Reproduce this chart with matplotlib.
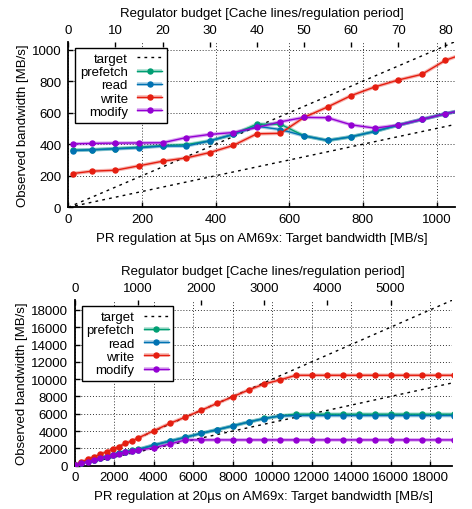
import matplotlib
matplotlib.use("Agg")
import matplotlib.pyplot as plt
from matplotlib.lines import Line2D

plt.rcParams['font.family'] = ['Liberation Sans', 'DejaVu Sans']
plt.rcParams['font.size'] = 9.5

# gnuplot default palette
C_PREFETCH = '#009e73'
C_READ = '#0072b2'
C_WRITE = '#e51e10'
C_MODIFY = '#9400d3'

# --- 5us regulation period (12.8 MB/s per cache line) ---
x5 = [12.8, 64, 128, 192, 256, 320, 384, 448, 512, 576, 640, 704, 768, 832, 896, 960, 1024, 1088]
prefetch5 = [362, 365, 372, 381, 391, 397, 421, 462, 527, 527, 453, 424, 447, 481, 521, 557, 593, 625]
read5 = [360, 364, 371, 377, 388, 388, 421, 462, 514, 493, 453, 424, 447, 481, 521, 557, 593, 625]
write5 = [214, 229, 235, 263, 292, 313, 347, 392, 466, 469, 570, 636, 708, 763, 807, 843, 932, 985]
modify5 = [402, 405, 407, 408, 409, 442, 462, 474, 506, 542, 570, 568, 523, 502, 521, 557, 593, 625]

# --- 20us regulation period (3.2 MB/s per cache line) ---
x20 = [3.2, 320, 640, 960, 1280, 1600, 1920, 2240, 2560, 2880, 3200, 4000, 4800, 5600, 6400,
       7200, 8000, 8800, 9600, 10400, 11200, 12000, 12800, 13600, 14400, 15200, 16000,
       16800, 17600, 18400, 19200]
prefetch20 = [60, 280, 500, 700, 900, 1060, 1260, 1450, 1620, 1760, 1880, 2380, 2840, 3280, 3740,
              4160, 4600, 5050, 5460, 5760, 5950, 5950, 5950, 5950, 5950, 5950, 5950,
              5950, 5950, 5950, 5950]
read20 = [60, 280, 500, 700, 900, 1060, 1260, 1450, 1620, 1750, 1870, 2380, 2840, 3280, 3740,
          4160, 4600, 5050, 5450, 5750, 5790, 5790, 5790, 5790, 5790, 5790, 5790,
          5790, 5790, 5790, 5790]
write20 = [60, 380, 760, 1010, 1310, 1620, 1930, 2210, 2580, 2860, 3200, 4040, 4880, 5620, 6400,
           7200, 7970, 8750, 9450, 9920, 10450, 10450, 10450, 10450, 10450, 10450, 10450,
           10450, 10450, 10450, 10450]
modify20 = [60, 270, 480, 680, 880, 1040, 1230, 1400, 1560, 1680, 1780, 2080, 2500, 2980, 2980,
            2980, 2980, 2980, 2980, 2980, 2980, 2980, 2980, 2980, 2980, 2980, 2980,
            2980, 2980, 2980, 2980]

series_names = ['prefetch', 'read', 'write', 'modify']
series_colors = [C_PREFETCH, C_READ, C_WRITE, C_MODIFY]

BAND = dict(lw=2.6, alpha=0.33, solid_capstyle='butt')
LINE = dict(lw=1.0, marker='o', ms=3.6)
TARGET = dict(color='black', lw=1.0, ls=(0, (2, 3)))


def draw_panel(ax, x, ys, xmax, ymax, xstep, ystep, per_line, x2step, xlabel):
    lim = max(xmax, ymax) * 1.2
    # target and half-target reference lines
    ax.plot([0, lim], [0, lim], zorder=3, **TARGET)
    ax.plot([0, lim], [0, lim / 2], zorder=3, **TARGET)
    for y, c in zip(ys, series_colors):
        ax.plot(x, y, color=c, zorder=4, **BAND)
        ax.plot(x, y, color=c, zorder=5, **LINE)

    ax.set_xlim(0, xmax)
    ax.set_ylim(0, ymax)
    ax.set_xticks(range(0, int(xmax) + 1, xstep))
    ax.set_yticks(range(0, int(ymax) + 1, ystep))
    ax.spines['top'].set_visible(False)
    ax.spines['right'].set_visible(False)
    for s in ('left', 'bottom'):
        ax.spines[s].set_linewidth(1.3)
    ax.tick_params(direction='in', length=3.5, width=1.0, top=False, right=False)
    ax.tick_params(axis='y', pad=5)
    ax.tick_params(axis='x', pad=4)
    ax.grid(True, color='black', lw=0.7, ls=(0, (1, 2)), alpha=0.8, zorder=1)
    ax.set_axisbelow(True)
    ax.set_xlabel(xlabel, labelpad=5)
    ax.set_ylabel('Observed bandwidth [MB/s]', labelpad=2)

    ax2 = ax.twiny()
    ax2.set_xlim(0, xmax / per_line)
    ax2.set_xticks(range(0, int(xmax / per_line) + 1, x2step))
    for s in ax2.spines.values():
        s.set_visible(False)
    ax2.tick_params(direction='in', length=3.5, width=1.0, pad=4)
    ax2.set_xlabel('Regulator budget [Cache lines/regulation period]', labelpad=6)

    handles = [Line2D([], [], **TARGET)]
    for c in series_colors:
        handles.append((Line2D([], [], color=c, **BAND), Line2D([], [], color=c, **LINE)))
    leg = ax.legend(handles, ['target'] + series_names, loc='upper left',
                    bbox_to_anchor=(0.018, 0.962), borderaxespad=0, markerfirst=False,
                    fancybox=False, framealpha=1, edgecolor='black', handlelength=1.9,
                    handletextpad=0.7, labelspacing=0.08, borderpad=0.35)
    leg.get_frame().set_linewidth(1.0)
    leg.set_zorder(10)


fig = plt.figure(figsize=(4.72, 5.10), dpi=100)
ax_top = fig.add_axes([0.1447, 0.5916, 0.8193, 0.3247])
ax_bot = fig.add_axes([0.1589, 0.0849, 0.7981, 0.3249])

draw_panel(ax_top, x5, [prefetch5, read5, write5, modify5], 1050, 1050, 200, 200, 12.8, 10,
           'PR regulation at 5µs on AM69x: Target bandwidth [MB/s]')
draw_panel(ax_bot, x20, [prefetch20, read20, write20, modify20], 19100, 19150, 2000, 2000, 3.2, 1000,
           'PR regulation at 20µs on AM69x: Target bandwidth [MB/s]')

fig.savefig('out.png', dpi=100)
